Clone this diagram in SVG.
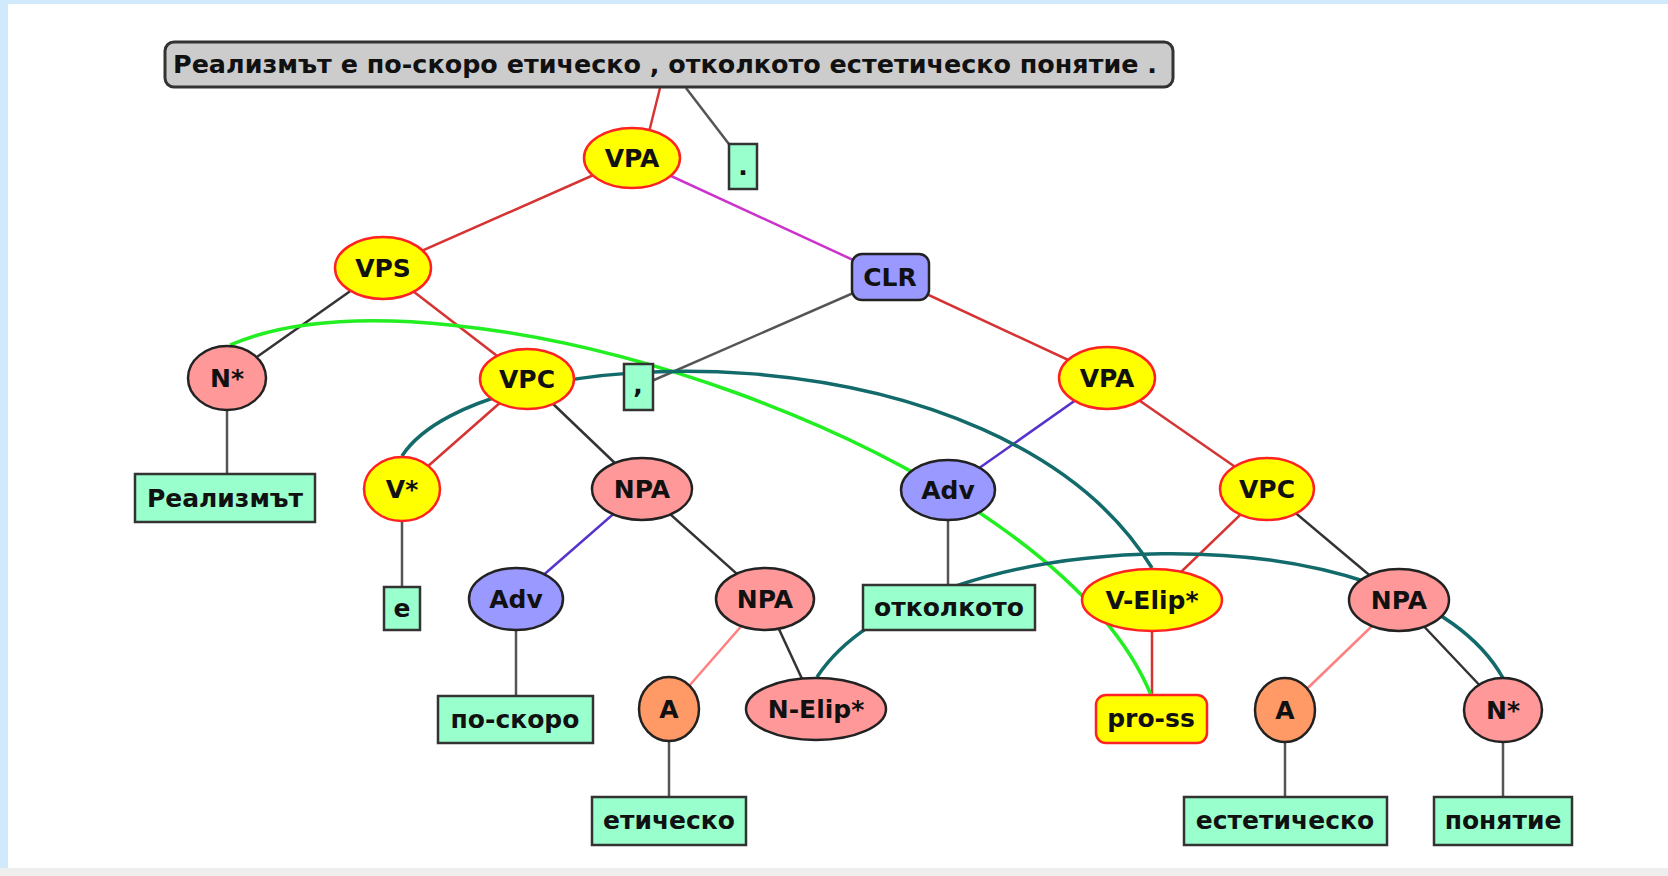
<svg xmlns="http://www.w3.org/2000/svg" width="1668" height="876" viewBox="0 0 1668 876">
<style>
text{font-family:"DejaVu Sans","Liberation Sans",sans-serif;font-weight:bold;font-size:25px;fill:#111;text-anchor:middle}
.yel{fill:#ffff00;stroke:#ff2222;stroke-width:2.5}
.pink{fill:#ff9999;stroke:#222;stroke-width:2.5}
.blue{fill:#9999ff;stroke:#222;stroke-width:2.5}
.orng{fill:#ff9966;stroke:#222;stroke-width:2.5}
.leaf{fill:#99ffcc;stroke:#333;stroke-width:2.5}
.sent{fill:#cccccc;stroke:#333;stroke-width:3}
.e{fill:none;stroke-width:2.5}
.red{stroke:#d63333}
.mag{stroke:#cc33cc}
.pur{stroke:#5533cc}
.dk{stroke:#333}
.gr{stroke:#555}
.pk{stroke:#ff8080}
.arc{fill:none;stroke-width:3.5}
</style>
<rect x="0" y="0" width="1668" height="876" fill="#ffffff"/>
<rect x="0" y="0" width="1668" height="4" fill="#d0eafc"/>
<rect x="0" y="0" width="8" height="876" fill="#d0eafc"/>
<rect x="0" y="868" width="1668" height="8" fill="#eeeeee"/>
<g id="connectors">
<line class="e red" x1="660" y1="88" x2="647" y2="140"/>
<line class="e gr" x1="686" y1="88" x2="735" y2="152"/>
<line class="e red" x1="632" y1="158" x2="383" y2="268"/>
<line class="e mag" x1="632" y1="158" x2="890" y2="277"/>
<line class="e dk" x1="383" y1="268" x2="227" y2="378"/>
<line class="e red" x1="383" y1="268" x2="527" y2="379"/>
<line class="e gr" x1="890" y1="277" x2="638" y2="387"/>
<line class="e red" x1="890" y1="277" x2="1107" y2="378"/>
<line class="e gr" x1="227" y1="378" x2="227" y2="498"/>
<line class="e red" x1="527" y1="379" x2="402" y2="489"/>
<line class="e dk" x1="527" y1="379" x2="642" y2="489"/>
<line class="e gr" x1="402" y1="489" x2="402" y2="608"/>
<line class="e pur" x1="642" y1="489" x2="516" y2="599"/>
<line class="e dk" x1="642" y1="489" x2="765" y2="599"/>
<line class="e gr" x1="516" y1="599" x2="516" y2="719"/>
<line class="e pk" x1="765" y1="599" x2="669" y2="709"/>
<line class="e dk" x1="765" y1="599" x2="816" y2="709"/>
<line class="e gr" x1="669" y1="709" x2="669" y2="821"/>
<line class="e pur" x1="1107" y1="378" x2="948" y2="490"/>
<line class="e red" x1="1107" y1="378" x2="1267" y2="489"/>
<line class="e gr" x1="948" y1="490" x2="948" y2="607"/>
<line class="e red" x1="1267" y1="489" x2="1152" y2="600"/>
<line class="e dk" x1="1267" y1="489" x2="1399" y2="600"/>
<line class="e red" x1="1152" y1="600" x2="1152" y2="719"/>
<line class="e pk" x1="1399" y1="600" x2="1285" y2="710"/>
<line class="e dk" x1="1399" y1="600" x2="1503" y2="710"/>
<line class="e gr" x1="1285" y1="710" x2="1285" y2="821"/>
<line class="e gr" x1="1503" y1="710" x2="1503" y2="821"/>
<path class="arc" stroke="#22ee22" d="M230,345 C450,250 1050,450 1151,695"/>
<path class="arc" stroke="#136a6a" d="M402,456 C480,335 1000,320 1152,568"/>
<path class="arc" stroke="#136a6a" d="M817,677 C920,520 1405,505 1503,678"/>
</g>
<g id="sentence"><rect class="sent" x="165" y="42" width="1008" height="45" rx="9"/><text x="665" y="73" font-size="24" textLength="984" lengthAdjust="spacingAndGlyphs">Реализмът е по-скоро етическо , отколкото естетическо понятие .</text></g>
<g id="dot"><rect class="leaf" x="729" y="144" width="28" height="45"/><text x="743" y="175">.</text></g>
<g id="VPA1"><ellipse class="yel" cx="632" cy="158" rx="48" ry="30"/><text x="632" y="167">VPA</text></g>
<g id="VPS"><ellipse class="yel" cx="383" cy="268" rx="48" ry="31"/><text x="383" y="277">VPS</text></g>
<g id="CLR"><rect class="blue" x="852" y="254" width="77" height="46" rx="10"/><text x="890" y="286">CLR</text></g>
<g id="Nstar1"><ellipse class="pink" cx="227" cy="378" rx="39" ry="32"/><text x="227" y="387">N*</text></g>
<g id="VPC1"><ellipse class="yel" cx="527" cy="379" rx="47" ry="30"/><text x="527" y="388">VPC</text></g>
<g id="comma"><rect class="leaf" x="624" y="364" width="29" height="46"/><text x="638" y="393">,</text></g>
<g id="VPA2"><ellipse class="yel" cx="1107" cy="378" rx="48" ry="31"/><text x="1107" y="387">VPA</text></g>
<g id="w1"><rect class="leaf" x="135" y="474" width="180" height="48"/><text x="225" y="507">Реализмът</text></g>
<g id="Vstar"><ellipse class="yel" cx="402" cy="489" rx="38" ry="32"/><text x="402" y="498">V*</text></g>
<g id="NPA1"><ellipse class="pink" cx="642" cy="489" rx="50" ry="31"/><text x="642" y="498">NPA</text></g>
<g id="Adv2"><ellipse class="blue" cx="948" cy="490" rx="47" ry="30"/><text x="948" y="499">Adv</text></g>
<g id="VPC2"><ellipse class="yel" cx="1267" cy="489" rx="47" ry="31"/><text x="1267" y="498">VPC</text></g>
<g id="w2"><rect class="leaf" x="384" y="587" width="36" height="43"/><text x="402" y="617">е</text></g>
<g id="Adv1"><ellipse class="blue" cx="516" cy="599" rx="47" ry="31"/><text x="516" y="608">Adv</text></g>
<g id="NPA2"><ellipse class="pink" cx="765" cy="599" rx="49" ry="31"/><text x="765" y="608">NPA</text></g>
<g id="w5"><rect class="leaf" x="863" y="585" width="172" height="45"/><text x="949" y="616">отколкото</text></g>
<g id="VElip"><ellipse class="yel" cx="1152" cy="600" rx="70" ry="31"/><text x="1152" y="609">V-Elip*</text></g>
<g id="NPA3"><ellipse class="pink" cx="1399" cy="600" rx="50" ry="31"/><text x="1399" y="609">NPA</text></g>
<g id="w3"><rect class="leaf" x="438" y="696" width="155" height="47"/><text x="515" y="728">по-скоро</text></g>
<g id="A1"><ellipse class="orng" cx="669" cy="709" rx="30" ry="32"/><text x="669" y="718">A</text></g>
<g id="NElip"><ellipse class="pink" cx="816" cy="709" rx="70" ry="31"/><text x="816" y="718">N-Elip*</text></g>
<g id="pross"><rect class="yel" x="1096" y="695" width="111" height="48" rx="10"/><text x="1151" y="727">pro-ss</text></g>
<g id="A2"><ellipse class="orng" cx="1285" cy="710" rx="30" ry="32"/><text x="1285" y="719">A</text></g>
<g id="Nstar2"><ellipse class="pink" cx="1503" cy="710" rx="39" ry="32"/><text x="1503" y="719">N*</text></g>
<g id="w4"><rect class="leaf" x="592" y="797" width="154" height="48"/><text x="669" y="829">етическо</text></g>
<g id="w6"><rect class="leaf" x="1184" y="797" width="203" height="48"/><text x="1285" y="829">естетическо</text></g>
<g id="w7"><rect class="leaf" x="1434" y="797" width="138" height="48"/><text x="1503" y="829">понятие</text></g>
</svg>
